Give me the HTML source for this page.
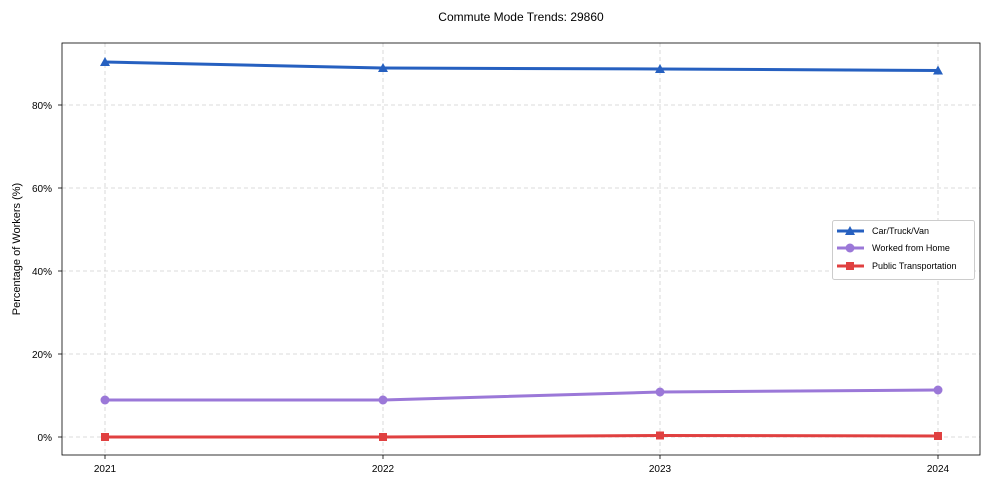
<!DOCTYPE html>
<html><head><style>body{margin:0;background:#fff}svg{display:block;font-family:"Liberation Sans",Arial,sans-serif}</style></head><body>
<svg width="990" height="490" viewBox="0 0 990 490" xmlns="http://www.w3.org/2000/svg">
<rect width="990" height="490" fill="#fff"/>
<text x="521" y="21" font-size="12" text-anchor="middle">Commute Mode Trends: 29860</text>
<g stroke="#d0d0d0" stroke-dasharray="4,3" stroke-width="0.8">
<line x1="105" y1="43" x2="105" y2="455"/><line x1="383" y1="43" x2="383" y2="455"/><line x1="660" y1="43" x2="660" y2="455"/><line x1="938" y1="43" x2="938" y2="455"/>
<line x1="62" y1="437" x2="980" y2="437"/><line x1="62" y1="354" x2="980" y2="354"/><line x1="62" y1="271" x2="980" y2="271"/><line x1="62" y1="188" x2="980" y2="188"/><line x1="62" y1="105" x2="980" y2="105"/>
</g>
<rect x="62" y="43" width="918" height="412" fill="none" stroke="#000" stroke-width="0.8"/>
<g font-size="10" text-anchor="end">
<text x="52" y="441">0%</text><text x="52" y="358">20%</text><text x="52" y="275">40%</text><text x="52" y="192">60%</text><text x="52" y="109">80%</text>
</g>
<g stroke="#000" stroke-width="0.8">
<line x1="58" y1="437" x2="62" y2="437"/><line x1="58" y1="354" x2="62" y2="354"/><line x1="58" y1="271" x2="62" y2="271"/><line x1="58" y1="188" x2="62" y2="188"/><line x1="58" y1="105" x2="62" y2="105"/>
<line x1="105" y1="455" x2="105" y2="459"/><line x1="383" y1="455" x2="383" y2="459"/><line x1="660" y1="455" x2="660" y2="459"/><line x1="938" y1="455" x2="938" y2="459"/>
</g>
<g font-size="10" text-anchor="middle">
<text x="105" y="472">2021</text><text x="383" y="472">2022</text><text x="660" y="472">2023</text><text x="938" y="472">2024</text>
</g>
<text transform="translate(20,249) rotate(-90)" font-size="11" text-anchor="middle">Percentage of Workers (%)</text>
<polyline points="105,62 383,68 660,69 938,70.5" fill="none" stroke="#2660c0" stroke-width="3"/>
<g fill="#2660c0"><polygon points="105,57 110,66 100,66"/><polygon points="383,63 388,72 378,72"/><polygon points="660,64 665,73 655,73"/><polygon points="938,65.5 943,74.5 933,74.5"/></g>
<polyline points="105,400 383,400 660,392 938,390" fill="none" stroke="#9b78d8" stroke-width="3"/>
<g fill="#9b78d8"><circle cx="105" cy="400" r="4.5"/><circle cx="383" cy="400" r="4.5"/><circle cx="660" cy="392" r="4.5"/><circle cx="938" cy="390" r="4.5"/></g>
<polyline points="105,437 383,437 660,435.5 938,436" fill="none" stroke="#e04040" stroke-width="3"/>
<g fill="#e04040"><rect x="101" y="433" width="8" height="8"/><rect x="379" y="433" width="8" height="8"/><rect x="656" y="431.5" width="8" height="8"/><rect x="934" y="432" width="8" height="8"/></g>
<rect x="832.5" y="220.5" width="142" height="59" rx="2" fill="#fff" stroke="#ccc"/>
<line x1="837" y1="231" x2="864" y2="231" stroke="#2660c0" stroke-width="3"/><polygon points="850,226 855,235 845,235" fill="#2660c0"/>
<line x1="837" y1="248" x2="864" y2="248" stroke="#9b78d8" stroke-width="3"/><circle cx="850" cy="248" r="4.5" fill="#9b78d8"/>
<line x1="837" y1="266" x2="864" y2="266" stroke="#e04040" stroke-width="3"/><rect x="846" y="262" width="8" height="8" fill="#e04040"/>
<g font-size="9"><text x="872" y="234">Car/Truck/Van</text><text x="872" y="251">Worked from Home</text><text x="872" y="269">Public Transportation</text></g>
</svg>
</body></html>
